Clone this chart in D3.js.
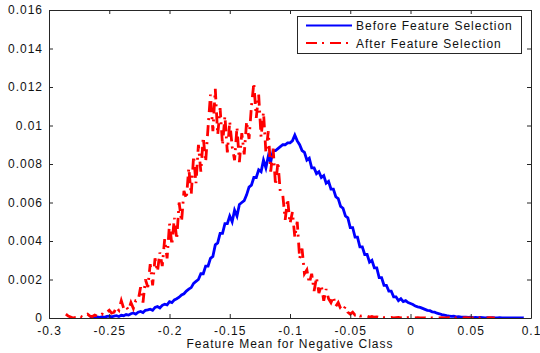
<!DOCTYPE html>
<html>
<head>
<meta charset="utf-8">
<script src="https://cdn.jsdelivr.net/npm/d3@7"></script>
<style>
  html, body { margin: 0; padding: 0; background: #fff; }
  svg text { font-family: "Liberation Sans", Arial, sans-serif; fill: #111; }
</style>
</head>
<body>
<svg id="chart" width="540" height="353"></svg>
<script>
// ---- data ----
const xTicks = [-0.3, -0.25, -0.2, -0.15, -0.1, -0.05, 0, 0.05, 0.1];
const xTickLabels = ["-0.3", "-0.25", "-0.2", "-0.15", "-0.1", "-0.05", "0", "0.05", "0.1"];
const yTicks = [0, 0.002, 0.004, 0.006, 0.008, 0.01, 0.012, 0.014, 0.016];
const yTickLabels = ["0", "0.002", "0.004", "0.006", "0.008", "0.01", "0.012", "0.014", "0.016"];
const seriesNames = ["Before Feature Selection", "After Feature Selection"];
const xLabel = "Feature Mean for Negative Class";

// bin grid for the "before" curve: starts at -0.266, width 0.002
const beforeStart = -0.266, beforeStep = 0.002;
const beforeValues = [
  0, 0.00002, 0, 0.00005, 0.00003,
  0.00006, 0.00004, 0.00008, 0.0001, 0.00006,
  0.0001, 0.00012, 0.00008, 0.00014, 0.00012,
  0.00018, 0.00015, 0.00022, 0.00026, 0.0002,
  0.0003, 0.00034, 0.00028, 0.0004, 0.00042,
  0.00046, 0.0004, 0.00055, 0.0006, 0.00052,
  0.00066, 0.00072, 0.00068, 0.00085, 0.0008,
  0.00094, 0.001, 0.00108, 0.0012, 0.00126,
  0.0014, 0.0015, 0.00158, 0.0018, 0.0019,
  0.002, 0.0023, 0.0023, 0.0027, 0.0027,
  0.0031, 0.0032, 0.0038, 0.0039, 0.0044,
  0.0044, 0.0049, 0.0049, 0.0053, 0.005,
  0.0056, 0.0053, 0.0059, 0.006, 0.0061,
  0.0064, 0.0068, 0.0069, 0.0073, 0.0073,
  0.0077, 0.0076, 0.0082, 0.0078, 0.0084,
  0.0081, 0.0087, 0.0087, 0.0088, 0.0089,
  0.009, 0.009, 0.0091, 0.0091, 0.0092,
  0.0095, 0.0092, 0.009, 0.0087, 0.0086,
  0.0082, 0.0083, 0.0078, 0.0078, 0.0075,
  0.0076, 0.0073, 0.0074, 0.007, 0.0071,
  0.0067, 0.0067, 0.0063, 0.0062, 0.0058,
  0.0057, 0.0053, 0.0052, 0.0047, 0.0047,
  0.0042, 0.0042, 0.0037, 0.0037, 0.0033,
  0.0033, 0.0029, 0.003, 0.0026, 0.0026,
  0.0021, 0.0021, 0.0017, 0.0017, 0.0014,
  0.0014, 0.0011, 0.0011, 0.0009, 0.001,
  0.00085, 0.0009, 0.0008, 0.00075, 0.0007,
  0.00062, 0.00058, 0.00055, 0.0005, 0.00045,
  0.0004, 0.00038, 0.00032, 0.0003, 0.00025,
  0.00022, 0.00018, 0.00015, 0.00012, 0.0001,
  0.00008, 0.00009, 0.00006, 0.00007, 0.00005,
  0.00004, 0.00005, 0.00003, 0.00004, 0.00002,
  0.00003, 0.00002, 0.00003, 0.00002, 0.00001,
  0.00002, 0.00001, 0.00002, 0.00001, 0.00001,
  0.00002, 0.00001, 0, 0.00001, 0.00001,
  0.00001, 0, 0.00001, 0, 0.00001, 0
];

// bin grid for the "after" curve: starts at -0.286, width 0.002
const afterStart = -0.286, afterStep = 0.002;
const afterValues = [
  0.0002, 0.0001, 0.00005, 0, 0.00003,
  0.00005, 0.0001, 0.00003, 0.00015, 0.0002,
  0.0001, 0.00008, 0.00015, 0.0001, 0.00012,
  0.0002, 0.00015, 0.0003, 0.0004, 0.00025,
  0.0003, 0.00055, 0.0004, 0.0009, 0.0005,
  0.0006, 0.0004, 0.0008, 0.0005, 0.0009,
  0.0009, 0.0016, 0.0008, 0.002, 0.0016,
  0.0028, 0.0017, 0.0031, 0.0024, 0.0034,
  0.0027, 0.0041, 0.0031, 0.0049, 0.0038,
  0.0052, 0.0041, 0.006, 0.005, 0.0066,
  0.0062, 0.0078, 0.0064, 0.0084, 0.007,
  0.009, 0.0076, 0.0094, 0.0081, 0.0099,
  0.0116, 0.0097, 0.0119, 0.0095, 0.0109,
  0.009, 0.0105, 0.0086, 0.0102, 0.0089,
  0.0082, 0.0099, 0.0081, 0.0096, 0.0085,
  0.0102, 0.0093, 0.011, 0.0122, 0.0104,
  0.0116, 0.0094, 0.0107, 0.0086, 0.0097,
  0.0076, 0.0088, 0.0069, 0.0081, 0.0065,
  0.0064, 0.0051, 0.0062, 0.0049, 0.0055,
  0.0042, 0.005, 0.0031, 0.0036, 0.0023,
  0.0025, 0.0018, 0.0023, 0.0014, 0.0021,
  0.0013, 0.0017, 0.0009, 0.0015, 0.001,
  0.0008, 0.0011, 0.0006, 0.0008, 0.0005,
  0.0004, 0.0006, 0.0003, 0.0002, 0.0003,
  0.00015, 0.0002, 0.0001, 0.00012, 0.00008,
  0.0001, 0.00005, 0.00008, 0.00004, 0.00006,
  0.00003, 0.00005, 0.00002, 0.00004, 0.00002,
  0.00003, 0.00001, 0.00002, 0.00003, 0.00001,
  0.00002, 0.00001, 0.00002, 0.00001, 0.00002,
  0.00001, 0.00002, 0.00001, 0, 0.00001,
  0.00002, 0.00001, 0.00001, 0.00002, 0,
  0.00001, 0.00002, 0.00001, 0.00001, 0.00002,
  0.00001, 0, 0.00001, 0.00002, 0.00001,
  0.00001, 0.00002, 0.00001, 0, 0.00001,
  0.00002, 0.00001, 0.00001, 0.00002, 0.00001,
  0.00001, 0.00002, 0.00001, 0.00001
];

// ---- layout ----
const svg = d3.select("#chart");
const margin = { left: 49, top: 10, right: 9, bottom: 35 };
const W = 540, H = 353;
const x = d3.scaleLinear().domain([-0.3, 0.1]).range([margin.left, W - margin.right]);
const y = d3.scaleLinear().domain([0, 0.016]).range([H - margin.bottom, margin.top]);

const axisColor = "#262626";
const textStyle = sel => sel.style("font-size", "12px").style("letter-spacing", "1px");

const beforeData = beforeValues.map((v, i) => [beforeStart + i * beforeStep, v]);
const afterData = afterValues.map((v, i) => [afterStart + i * afterStep, v]);

const line = d3.line().x(d => x(d[0])).y(d => y(d[1]));

svg.append("clipPath").attr("id", "clip").append("rect")
  .attr("x", x(-0.3)).attr("y", y(0.016))
  .attr("width", x(0.1) - x(-0.3)).attr("height", y(0) - y(0.016));

const plot = svg.append("g").attr("clip-path", "url(#clip)");
plot.append("path").datum(beforeData)
  .attr("d", line).attr("fill", "none").attr("stroke", "#0000ff")
  .attr("stroke-width", 2.8).attr("stroke-linejoin", "miter");
plot.append("path").datum(afterData)
  .attr("d", line).attr("fill", "none").attr("stroke", "#ff0000")
  .attr("stroke-width", 2.8).attr("stroke-dasharray", "11,5,2,6");

// axes (ticks inside)
const xAxisB = d3.axisBottom(x).tickValues(xTicks).tickFormat((d, i) => xTickLabels[i]).tickSizeInner(-4).tickSizeOuter(0).tickPadding(8);
const xAxisT = d3.axisTop(x).tickValues(xTicks).tickFormat("").tickSizeInner(-4).tickSizeOuter(0);
const yAxisL = d3.axisLeft(y).tickValues(yTicks).tickFormat((d, i) => yTickLabels[i]).tickSizeInner(-4).tickSizeOuter(0).tickPadding(6);
const yAxisR = d3.axisRight(y).tickValues(yTicks).tickFormat("").tickSizeInner(-4).tickSizeOuter(0);

function styleAxis(g) {
  g.select(".domain").attr("stroke", axisColor).attr("stroke-width", 1);
  g.selectAll(".tick line").attr("stroke", axisColor);
  g.selectAll(".tick text").attr("fill", "#111").call(textStyle).style("font-family", '"Liberation Sans", Arial, sans-serif');
}
svg.append("g").attr("transform", `translate(0,${y(0)})`).call(xAxisB).call(styleAxis);
svg.append("g").attr("transform", `translate(0,${y(0.016)})`).call(xAxisT).call(styleAxis);
svg.append("g").attr("transform", `translate(${x(-0.3)},0)`).call(yAxisL).call(styleAxis);
svg.append("g").attr("transform", `translate(${x(0.1)},0)`).call(yAxisR).call(styleAxis);

// x label
svg.append("text").attr("x", (x(-0.3) + x(0.1)) / 2).attr("y", 348)
  .attr("text-anchor", "middle").text(xLabel).call(textStyle);

// legend
const lg = svg.append("g");
lg.append("rect").attr("x", 297.5).attr("y", 16.5).attr("width", 224).attr("height", 37)
  .attr("fill", "#fff").attr("stroke", axisColor).attr("stroke-width", 1);
const legendColors = ["#0000ff", "#ff0000"];
const legendDash = [null, "11,5,2,6"];
seriesNames.forEach((name, i) => {
  const ly = 25.5 + i * 17.5;
  lg.append("line").attr("x1", 306).attr("x2", 352).attr("y1", ly).attr("y2", ly)
    .attr("stroke", legendColors[i]).attr("stroke-width", 2)
    .attr("stroke-dasharray", legendDash[i]);
  lg.append("text").attr("x", 356).attr("y", ly + 4.5).text(name).call(textStyle);
});
</script>
</body>
</html>
